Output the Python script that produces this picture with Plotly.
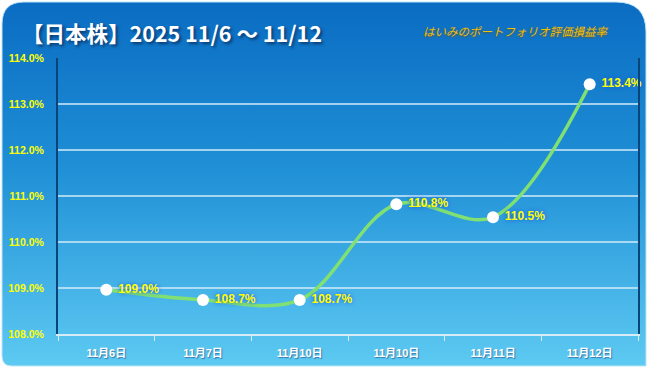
import base64
import plotly.graph_objects as go

categories = ["11月6日", "11月7日", "11月10日", "11月10日", "11月11日", "11月12日"]
values = [108.96, 108.74, 108.74, 110.82, 110.54, 113.43]
labels = ["109.0%", "108.7%", "108.7%", "110.8%", "110.5%", "113.4%"]
y_ticks = [108, 109, 110, 111, 112, 113, 114]
y_tick_text = ["108.0%", "109.0%", "110.0%", "111.0%", "112.0%", "113.0%", "114.0%"]

W, H = 649, 368
L, R, T, B = 58, 11, 58, 34
pw, ph = W - L - R, H - T - B

svg = f'''<svg xmlns="http://www.w3.org/2000/svg" width="{W}" height="{H}" viewBox="0 0 {W} {H}">
<defs><linearGradient id="g" x1="0" y1="0" x2="0" y2="1">
<stop offset="0" stop-color="#0a6cc2"/><stop offset="0.45" stop-color="#1f8fd6"/><stop offset="1" stop-color="#5dcaf2"/>
</linearGradient></defs>
<path d="M2,24 Q2,2 24,2 L616,2 Q646,2 646,32 L646,366 L12,366 Q2,366 2,356 Z" fill="url(#g)" stroke="#bfe3f7" stroke-width="1"/>
</svg>'''
src = "data:image/svg+xml;base64," + base64.b64encode(svg.encode()).decode()

x = list(range(len(categories)))

fig = go.Figure()
fig.add_trace(go.Scatter(
    x=x, y=values, mode="lines+markers+text",
    line=dict(color="#80e072", width=3.5, shape="spline", smoothing=1.0),
    marker=dict(color="white", size=12, line=dict(width=0)),
    text=labels, texttemplate=" %{text}", textposition="middle right",
    textfont=dict(family="Liberation Sans, Arial, sans-serif", size=12, color="#ffff00", weight="bold",
                  shadow="0px 0px 4px #1a50e8"),
    cliponaxis=False, hoverinfo="skip",
))

fig.update_layout(
    width=W, height=H,
    margin=dict(l=L, r=R, t=T, b=B),
    paper_bgcolor="white", plot_bgcolor="rgba(0,0,0,0)",
    showlegend=False,
    images=[dict(source=src, xref="paper", yref="paper", x=-L / pw, y=1 + T / ph,
                 sizex=W / pw, sizey=H / ph, sizing="stretch", xanchor="left", yanchor="top",
                 layer="below")],
    xaxis=dict(range=[-0.5, 5.5], tickmode="array", tickvals=x, ticktext=categories,
               automargin=False, ticklabelstandoff=8,
               showgrid=False, zeroline=False, showline=True, linecolor="#d8ecf7", linewidth=2,
               ticks="", tickfont=dict(family="Liberation Sans, Noto Sans CJK JP, sans-serif", size=11,
                                       color="white", weight="bold", shadow="1px 1px 1px #3a78a8"),
               minor=dict(tickmode="array", tickvals=[-0.5, 0.5, 1.5, 2.5, 3.5, 4.5, 5.5],
                          ticks="outside", ticklen=5, tickcolor="#d8ecf7", tickwidth=1, showgrid=False)),
    yaxis=dict(range=[108, 114], tickmode="array", tickvals=y_ticks, ticktext=y_tick_text,
               automargin=False,
               showgrid=True, gridcolor="rgba(210,235,250,0.75)", gridwidth=1.5, zeroline=False,
               showline=True, mirror=True, linecolor="#0b4478", linewidth=2,
               ticks="", ticklabelstandoff=10,
               tickfont=dict(family="Liberation Sans, Arial, sans-serif", size=10.5, color="#ffff00",
                             weight="bold")),
    annotations=[
        dict(text="<b>【日本株】2025 11/6 ～ 11/12</b>", xref="paper", yref="paper",
             x=-(L - 20) / pw, y=1 + (T - 32) / ph, xanchor="left", yanchor="middle", showarrow=False,
             font=dict(family="Noto Sans CJK JP, sans-serif", size=21.5, color="white",
                       shadow="2px 2px 3px #0a3a70")),
        dict(text="<i>はいみのポートフォリオ評価損益率</i>", xref="paper", yref="paper",
             x=(421 - L) / pw, y=1 + (T - 31) / ph, xanchor="left", yanchor="middle", showarrow=False,
             font=dict(family="Noto Sans CJK JP, sans-serif", size=11.5, color="#f0bf0c",
                       shadow="0px 1px 2px #6a5a20")),
    ],
)

fig.write_html("out.html", config={"displayModeBar": False},
               post_script="document.body.style.margin='0';document.body.style.overflow='hidden';")
